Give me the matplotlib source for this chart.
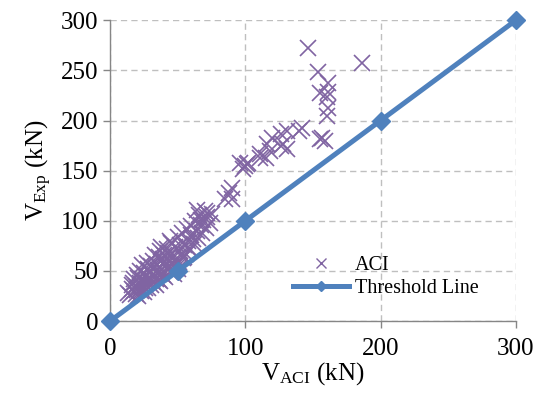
import matplotlib
matplotlib.use("Agg")
import matplotlib.pyplot as plt
from matplotlib.lines import Line2D

plt.rcParams["font.family"] = ["Liberation Serif", "DejaVu Serif"]
plt.rcParams["mathtext.fontset"] = "custom"
plt.rcParams["mathtext.rm"] = "Liberation Serif"
plt.rcParams["mathtext.it"] = "Liberation Serif:italic"

# ACI predicted shear vs experimental shear (kN)
v_aci = [
    13, 15, 16, 17, 18, 18, 19, 20, 20, 21, 22, 22, 23, 24, 24, 25, 25, 26,
    27, 27, 28, 28, 29, 30, 30, 31, 32, 32, 33, 34, 34, 35, 35, 36, 36, 37,
    37, 38, 38, 39, 40, 40, 41, 42, 42, 43, 44, 44, 45, 45, 46, 47, 48, 48,
    49, 50, 50, 51, 52, 53, 54, 55, 56, 57, 58, 59, 60, 60, 62, 63, 64, 65,
    66, 67, 68, 69, 70, 71, 72, 74, 75, 64, 67, 72,
    16, 19, 21, 23, 26, 29, 31, 33, 36, 39, 41, 43, 46, 49, 52, 55, 58, 61,
    26, 34, 44, 53,
    85, 88, 90, 90, 96, 98, 100, 101, 102, 111, 111, 115, 116, 118, 120, 126,
    126, 128, 131, 131, 140, 142, 146, 154, 155, 155, 157, 159, 160, 160,
    161, 161, 161, 186,
]
v_exp = [
    28, 26, 32, 38, 30, 42, 35, 31, 46, 25, 38, 50, 33, 42, 56, 29, 48, 37,
    45, 58, 33, 52, 40, 55, 36, 46, 60, 39, 66, 49, 42, 43, 57, 64, 41, 40,
    70, 51, 74, 46, 59, 66, 44, 72, 53, 63, 49, 80, 78, 57, 68, 47, 61, 74,
    53, 84, 52, 59, 70, 88, 63, 76, 67, 92, 80, 71, 95, 86, 77, 100, 90, 83,
    106, 96, 88, 101, 110, 93, 104, 98, 107, 111, 101, 108,
    36, 27, 43, 30, 40, 50, 41, 54, 48, 62, 55, 68, 64, 58, 76, 64, 74, 82,
    33, 36, 54, 66,
    122, 128, 133, 122, 158, 152, 155, 157, 158, 167, 163, 163, 177, 170, 183, 175,
    187, 177, 172, 190, 190, 193, 272, 248, 227, 182, 183, 180, 205, 223,
    237, 228, 212, 257,
]

threshold_x = [0, 50, 100, 200, 300]
threshold_y = [0, 50, 100, 200, 300]

purple = "#8064A2"
blue = "#4F81BD"
grid_gray = "#BFBFBF"
axis_gray = "#868686"

fig = plt.figure(figsize=(5.38, 3.96), dpi=100)
ax = fig.add_axes([0.2045, 0.189, 0.7545, 0.760])

ax.plot(v_aci, v_exp, linestyle="none", marker="x", markersize=11.5,
        markeredgewidth=1.2, color=purple, zorder=3)
ax.plot(threshold_x, threshold_y, color=blue, linewidth=3.6, marker="D",
        markersize=9, zorder=4, clip_on=False)

ax.set_xlim(0, 300)
ax.set_ylim(0, 300)
ax.set_xticks([0, 100, 200, 300])
ax.set_yticks([0, 50, 100, 150, 200, 250, 300])

ax.grid(True, linestyle=(0, (4.5, 3)), color=grid_gray, linewidth=1.0)
ax.set_axisbelow(True)
for side in ["top", "right"]:
    ax.spines[side].set_visible(False)
for side in ["left", "bottom"]:
    ax.spines[side].set_color(axis_gray)
    ax.spines[side].set_linewidth(1.0)
ax.tick_params(axis="both", colors=axis_gray, labelcolor="black",
               labelsize=18, length=5, width=1.0, direction="out")
ax.tick_params(axis="x", pad=7)

ax.set_xlabel("V$_{\\mathrm{ACI}}$ (kN)", fontsize=18, labelpad=0)
ax.set_ylabel("V$_{\\mathrm{Exp}}$ (kN)", fontsize=18, labelpad=5)

handles = [
    Line2D([], [], linestyle="none", marker="x", markersize=7,
           markeredgewidth=1.0, color=purple),
    Line2D([], [], color=blue, linewidth=3.6, marker="D", markersize=5),
]
ax.legend(handles, ["ACI", "Threshold Line"], loc="lower left",
          bbox_to_anchor=(0.43, 0.05), frameon=False, fontsize=14.5,
          handlelength=2.8, handletextpad=0.3, labelspacing=0.2,
          borderaxespad=0)

fig.savefig("out.png", dpi=100)
